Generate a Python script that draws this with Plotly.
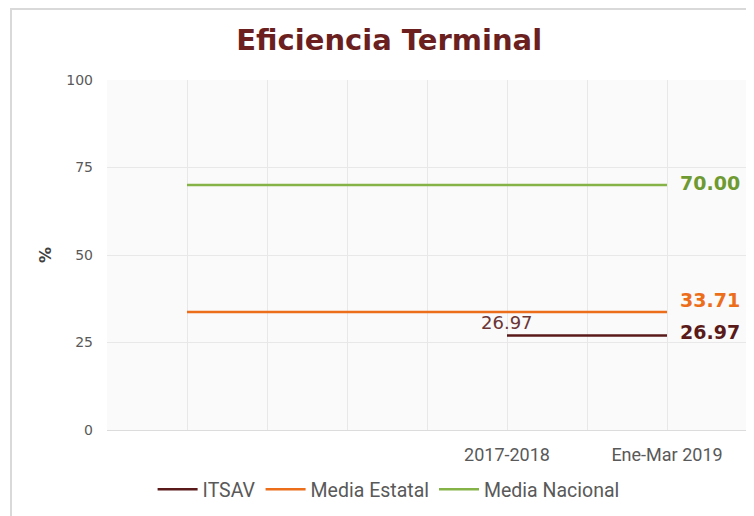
import plotly.graph_objects as go

# Category slots (Excel-style, labels shown only where present)
categories = ["", "", "", "", "2017-2018", "", "Ene-Mar 2019"]
itsav = [None, None, None, None, 26.97, None, 26.97]
media_estatal = [33.71] * 7
media_nacional = [70.00] * 7
y_ticks = [0, 25, 50, 75, 100]

x_pos = list(range(1, len(categories) + 1))
itsav_x = [x for x, v in zip(x_pos, itsav) if v is not None]
itsav_y = [v for v in itsav if v is not None]

c_itsav = "#5A1A1A"
c_est = "#EC6D1A"
c_nac = "#86B348"

fig = go.Figure()
fig.add_trace(go.Scatter(x=itsav_x, y=itsav_y, mode="lines", name="ITSAV",
                         line=dict(color=c_itsav, width=2.5)))
fig.add_trace(go.Scatter(x=x_pos, y=media_estatal, mode="lines", name="Media Estatal",
                         line=dict(color=c_est, width=2.5)))
fig.add_trace(go.Scatter(x=x_pos, y=media_nacional, mode="lines", name="Media Nacional",
                         line=dict(color=c_nac, width=2.5)))

lab_font = "DejaVu Sans, Verdana, sans-serif"
narrow = "Liberation Sans Narrow, Roboto, sans-serif"
# End labels
fig.add_annotation(x=x_pos[-1], y=media_nacional[-1], text="<b>70.00</b>", showarrow=False,
                   xanchor="left", xshift=11, yshift=2, font=dict(family=lab_font, size=19, color="#6F9A32"))
fig.add_annotation(x=x_pos[-1], y=media_estatal[-1], text="<b>33.71</b>", showarrow=False,
                   xanchor="left", xshift=11, yshift=12, font=dict(family=lab_font, size=19, color=c_est))
fig.add_annotation(x=itsav_x[-1], y=itsav_y[-1], text="<b>26.97</b>", showarrow=False,
                   xanchor="left", xshift=11, yshift=4, font=dict(family=lab_font, size=19, color=c_itsav))
fig.add_annotation(x=itsav_x[0], y=itsav_y[0], text="26.97", showarrow=False,
                   xanchor="center", xshift=0, yshift=13, font=dict(family=lab_font, size=18, color="#6B3535"))

tickvals = list(range(0, len(categories) + 2))
ticktext = [""] + categories + [""]

fig.update_layout(
    width=746, height=508,
    margin=dict(l=99, r=7, t=72, b=86),
    paper_bgcolor="white",
    plot_bgcolor="#fafafa",
    title=dict(text="<b>Eficiencia Terminal</b>", x=0.511, xanchor="center", y=0.937, yanchor="middle",
               font=dict(family=lab_font, size=29, color="#6B1F1F")),
    xaxis=dict(range=[0, len(categories) + 1], tickvals=tickvals, ticktext=ticktext,
               showgrid=True, gridcolor="#e8e8e8", gridwidth=1, zeroline=False,
               showline=True, linecolor="#dcdcdc", ticks="", ticklabelstandoff=8,
               tickfont=dict(family=narrow, size=18, color="#595959"),
               fixedrange=True),
    yaxis=dict(range=[0, 100], tickvals=y_ticks, showgrid=True, gridcolor="#e8e8e8", zeroline=False,
               ticks="", ticklabelstandoff=13,
               tickfont=dict(family=lab_font, size=14, color="#595959"),
               title=dict(text="<b>%</b>", font=dict(family=lab_font, size=16, color="#404040"), standoff=10)),
    legend=dict(orientation="h", x=0.44, xanchor="center", y=-0.17, yanchor="middle",
                font=dict(family=narrow, size=19.5, color="#595959"),
                itemwidth=40, tracegroupgap=0),
    showlegend=True,
    shapes=[dict(type="rect", xref="paper", yref="paper", x0=-0.15, x1=1.2, y0=-0.5, y1=1.203,
                 line=dict(color="#d9d9d9", width=2), fillcolor="rgba(0,0,0,0)", layer="below")],
)

fig.write_html("out.html")
